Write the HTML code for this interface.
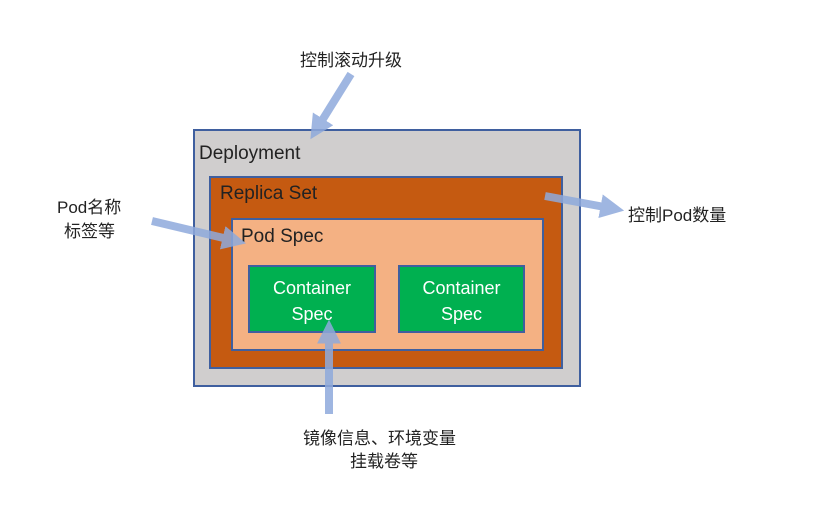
<!DOCTYPE html>
<html><head><meta charset="utf-8"><style>
body{margin:0;background:#fff;width:830px;height:524px;position:relative;overflow:hidden;font-family:"Liberation Sans","Noto Sans CJK SC",sans-serif}
.b{position:absolute;box-sizing:border-box;border:2px solid #3f5f9f}
.t{position:absolute;font-size:17px;color:#222;white-space:nowrap}
.c{color:#fff;font-size:18px;text-align:center;line-height:26px;padding-top:8px}
</style></head><body>
<div class="b" style="left:193px;top:129px;width:388px;height:258px;background:#d0cece"></div>
<div class="t" style="left:199px;top:143px;font-size:19px">Deployment</div>
<div class="b" style="left:209px;top:176px;width:354px;height:193px;background:#c55a11"></div>
<div class="t" style="left:220px;top:183px;font-size:19px">Replica Set</div>
<div class="b" style="left:231px;top:218px;width:313px;height:133px;background:#f4b183"></div>
<div class="t" style="left:241px;top:226px;font-size:19px">Pod Spec</div>
<div class="b c" style="left:248px;top:265px;width:128px;height:68px;background:#00b050">Container<br>Spec</div>
<div class="b c" style="left:398px;top:265px;width:127px;height:68px;background:#00b050">Container<br>Spec</div>
<svg width="830" height="524" style="position:absolute;left:0;top:0">
<defs><marker id="m" markerWidth="3" markerHeight="3" refX="1.2" refY="1.5" orient="auto"><path d="M0,0L3,1.5L0,3z" fill="#8faadc"/></marker></defs>
<g stroke="#8faadc" stroke-width="8" opacity="0.85" fill="none" marker-end="url(#m)">
<line x1="351" y1="74" x2="318" y2="127"/>
<line x1="152" y1="221" x2="232" y2="240"/>
<line x1="545" y1="196" x2="610" y2="208"/>
<line x1="329" y1="414" x2="329" y2="334"/>
</g></svg>
<div class="t" style="left:300px;top:46px">控制滚动升级</div>
<div class="t" style="left:57px;top:193px">Pod名称</div>
<div class="t" style="left:64px;top:217px">标签等</div>
<div class="t" style="left:628px;top:201px">控制Pod数量</div>
<div class="t" style="left:303px;top:424px">镜像信息、环境变量</div>
<div class="t" style="left:350px;top:447px">挂载卷等</div>
</body></html>
